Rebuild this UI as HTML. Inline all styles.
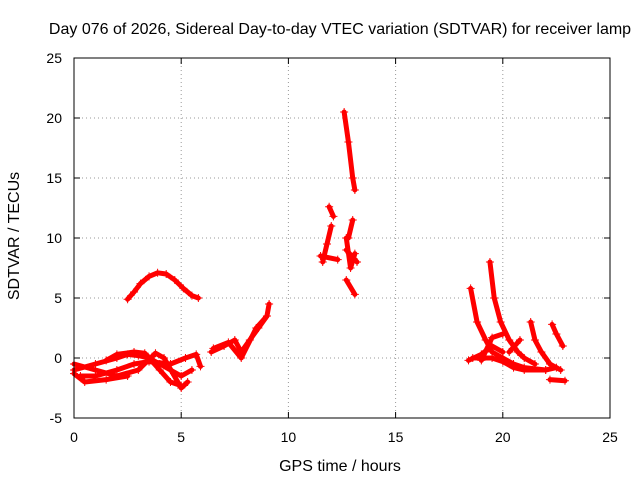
<!DOCTYPE html>
<html><head><meta charset="utf-8"><style>
body{margin:0;background:#fff}
svg{display:block;font-family:"Liberation Sans",sans-serif}
</style></head><body>
<svg id="chart" width="640" height="480">
<text x="340" y="34" font-size="16" text-anchor="middle">Day 076 of 2026, Sidereal Day-to-day VTEC variation (SDTVAR) for receiver lamp</text>
<text x="340" y="471" font-size="16" text-anchor="middle">GPS time / hours</text>
<text x="19" y="236" font-size="16" text-anchor="middle" transform="rotate(-90 19 236)">SDTVAR / TECUs</text>
<g id="grid"></g><g id="ticks"></g><g id="marks"></g>
<rect x="74" y="58" width="536" height="360" fill="none" stroke="#000"/>
</svg>
<script>
const xTicks=[0,5,10,15,20,25];
const yTicks=[-5,0,5,10,15,20,25];
const tracks=[
[[2.5,4.9],[2.8,5.5],[3.1,6.2],[3.5,6.8],[3.9,7.1],[4.3,7.0],[4.7,6.5],[5.1,5.8],[5.5,5.2],[5.8,5.0]],
[[0,-1],[1,-0.5],[2,0],[2.5,0.3],[3,0.2],[3.5,0],[4,-0.5],[4.5,-1],[5,-1.5],[5.5,-1]],
[[0,-0.5],[1,-1],[2,-1.5],[3,-1],[3.8,0.4],[4.2,0],[5,-2.5],[5.3,-2]],
[[0.3,-1.5],[1,-1.5],[2,-1],[2.8,-0.5],[3.5,-0.3],[4.5,-0.5],[5.2,0],[5.7,0.3],[5.9,-0.7]],
[[0,-1.3],[0.5,-2],[1.5,-1.8],[2.5,-1.5]],
[[1.5,-0.2],[2,0.3],[2.8,0.5],[3.3,0.4],[4,-1],[4.5,-2],[5,-2.3]],
[[6.4,0.5],[7,1.0],[7.5,1.5],[7.8,0.5],[8.2,1.5],[8.6,2.5],[9,3.5],[9.1,4.5]],
[[6.5,0.8],[7.2,1.3],[7.8,0.0],[8.5,2.5],[9,3.5]],
[[11.6,8],[11.8,9.5],[12,11]],
[[11.9,12.6],[12.1,11.8]],
[[11.5,8.5],[12.3,8.2]],
[[12.6,20.5],[12.8,18],[13,15],[13.1,14]],
[[12.7,10],[12.9,7.5],[13.1,8.7]],
[[13,11.5],[12.8,10]],
[[12.7,6.5],[13.1,5.3]],
[[12.7,9],[13.2,8]],
[[18.5,5.8],[18.8,3],[19.2,1.5],[19.5,0.5],[20,0],[20.5,-0.5],[21,-0.8],[22,-1],[22.5,-0.8]],
[[19.4,8],[19.6,5],[19.9,3],[20.3,1.5],[20.7,0.5],[21,0],[21.5,-0.5]],
[[18.4,-0.2],[19,0.3],[19.5,1],[20,0.5]],
[[18.6,0],[19.5,0],[20,-0.3],[20.5,-0.8],[21,-1],[22,-1]],
[[21.3,3],[21.5,1.5],[21.8,0.5],[22.2,-0.5],[22.7,-1]],
[[22.3,2.8],[22.5,2],[22.8,1]],
[[22.2,-1.8],[22.9,-1.9]],
[[19,-0.2],[19.5,1.7],[20,2]],
[[20.3,0.5],[20.8,1.5]]
];
const NS='http://www.w3.org/2000/svg';
const X=v=>74+v*536/25, Y=v=>358-v*12;
const g=document.getElementById('grid'),t=document.getElementById('ticks'),m=document.getElementById('marks');
function mk(tag,a,p){const e=document.createElementNS(NS,tag);for(const k in a)e.setAttribute(k,a[k]);p.appendChild(e);return e;}
xTicks.forEach(v=>{
 if(v>0&&v<25){const l=mk('line',{x1:X(v),x2:X(v),y1:58,y2:418,stroke:'#999','stroke-dasharray':'1,3'},g);
 
 }
 const tx=mk('text',{x:X(v),y:442,'font-size':14,'text-anchor':'middle'},t);tx.textContent=v;
 
 
 mk('line',{x1:X(v),x2:X(v),y1:418,y2:412,stroke:'#000'},t);mk('line',{x1:X(v),x2:X(v),y1:58,y2:64,stroke:'#000'},t);
});
yTicks.forEach(v=>{
 if(v>-5&&v<25){const l=mk('line',{x1:74,x2:610,y1:Y(v),y2:Y(v),stroke:'#999','stroke-dasharray':'1,3'},g);
 
 }
 const tx=mk('text',{x:62,y:Y(v)+5,'font-size':14,'text-anchor':'end'},t);tx.textContent=v;
 
 
 mk('line',{x1:74,x2:80,y1:Y(v),y2:Y(v),stroke:'#000'},t);mk('line',{x1:610,x2:604,y1:Y(v),y2:Y(v),stroke:'#000'},t);
});
tracks.forEach(tr=>{
 const p=mk('polyline',{points:tr.map(q=>X(q[0])+','+Y(q[1])).join(' '),fill:'none',stroke:'#f00','stroke-width':5,'stroke-linejoin':'round','stroke-linecap':'round'},m);
 
 
 tr.forEach(q=>{const x=X(q[0]),y=Y(q[1]);
  const c=mk('path',{d:`M${x-4} ${y}h8M${x} ${y-4}v8`,stroke:'#f00','stroke-width':1},m);
  
  });
});
</script>
</body></html>
